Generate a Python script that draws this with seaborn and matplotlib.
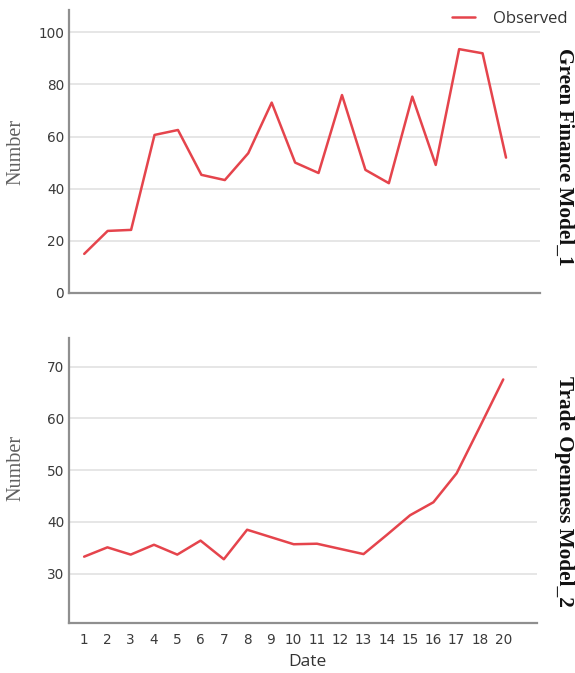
import matplotlib
matplotlib.use("Agg")
import matplotlib.pyplot as plt
import seaborn as sns
import pandas as pd

# ---- data ----
dates = ["1", "2", "3", "4", "5", "6", "7", "8", "9", "10", "11", "12",
         "13", "14", "15", "16", "17", "18", "20"]
green_finance = [15.0, 23.8, 24.2, 60.6, 62.5, 45.3, 43.3, 53.6, 73.0, 50.0,
                 46.0, 75.9, 47.2, 42.1, 75.3, 49.1, 93.5, 91.9, 51.9]
trade_openness = [33.3, 35.1, 33.7, 35.6, 33.7, 36.4, 32.8, 38.5, 37.1, 35.7,
                  35.8, 34.8, 33.8, 37.5, 41.3, 43.8, 49.4, 58.4, 67.5]
top_yticks = [0, 20, 40, 60, 80, 100]
bottom_yticks = [30, 40, 50, 60, 70]
panel_titles = ["Green Finance Model_1", "Trade Openness Model_2"]
series_name = "Observed"

sns.set_theme(style="white")
plt.rcParams["font.family"] = ["DejaVu Sans"]

W, H = 575, 673
fig = plt.figure(figsize=(W / 100, H / 100), dpi=100)
fig.patch.set_facecolor("white")

line_color = "#e5444c"
grid_color = "#e2e2e2"
spine_color = "#8f8f8f"

ax1 = fig.add_axes([69 / W, 1 - 293 / H, 471 / W, 283 / H])
ax2 = fig.add_axes([69 / W, 1 - 623 / H, 468 / W, 285 / H])

df1 = pd.DataFrame({"Date": dates, "Number": green_finance})
df2 = pd.DataFrame({"Date": dates, "Number": trade_openness})

sns.lineplot(data=df1, x="Date", y="Number", ax=ax1, color=line_color,
             linewidth=1.8, label=series_name, sort=False)
sns.lineplot(data=df2, x="Date", y="Number", ax=ax2, color=line_color,
             linewidth=1.8, sort=False)

for ax, yt, lim in [(ax1, top_yticks, (0, 108.5)), (ax2, bottom_yticks, (20.5, 75.5))]:
    ax.set_facecolor("white")
    ax.set_ylim(*lim)
    ax.set_yticks(yt)
    ax.set_xlim(-0.65, 19.45)
    ax.grid(axis="y", color=grid_color, linewidth=1.2)
    ax.grid(axis="x", visible=False)
    ax.set_axisbelow(True)
    for s in ["top", "right"]:
        ax.spines[s].set_visible(False)
    for s in ["left", "bottom"]:
        ax.spines[s].set_color(spine_color)
        ax.spines[s].set_linewidth(1.6)
    ax.tick_params(axis="both", length=0, labelsize=9.8, labelcolor="#3a3a3a")
    ax.tick_params(axis="y", pad=3.5)
    ax.set_ylabel("Number", family=["Liberation Serif"], fontsize=14.5, color="#606060")

ax1.set_xticks(range(len(dates)))
ax1.set_xticklabels([])
ax1.set_xlabel("")
ax2.set_xticks(range(len(dates)))
ax2.set_xticklabels(dates)
ax2.tick_params(axis="x", pad=7)
ax2.set_xlabel("Date", family=["Open Sans", "DejaVu Sans"], fontsize=12.5, color="#333333")
ax2.xaxis.set_label_coords((307 - 69) / 468, -(654 - 623) / 285)

ax1.yaxis.set_label_coords(-(69 - 25) / 471, 0.5)
ax2.yaxis.set_label_coords(-(69 - 25) / 468, (623 - 468) / 285)

# right-side panel labels
fig.text(564 / W, 1 - 157 / H, panel_titles[0], rotation=-90, ha="center", va="center",
         family=["Liberation Serif"], fontweight="bold", fontsize=15.3, color="#111111")
fig.text(564 / W, 1 - 491 / H, panel_titles[1], rotation=-90, ha="center", va="center",
         family=["Liberation Serif"], fontweight="bold", fontsize=15.3, color="#111111")

# legend
handles, labels = ax1.get_legend_handles_labels()
ax1.legend_.remove()
fig.legend(handles, labels, loc="center left", bbox_to_anchor=(452 / W, 1 - 19 / H),
           frameon=False, borderpad=0, borderaxespad=0, handlelength=1.4,
           handletextpad=1.05, prop={"family": ["Open Sans", "DejaVu Sans"], "size": 12},
           labelcolor="#333333")

fig.savefig("out.png", dpi=100, facecolor="white")
